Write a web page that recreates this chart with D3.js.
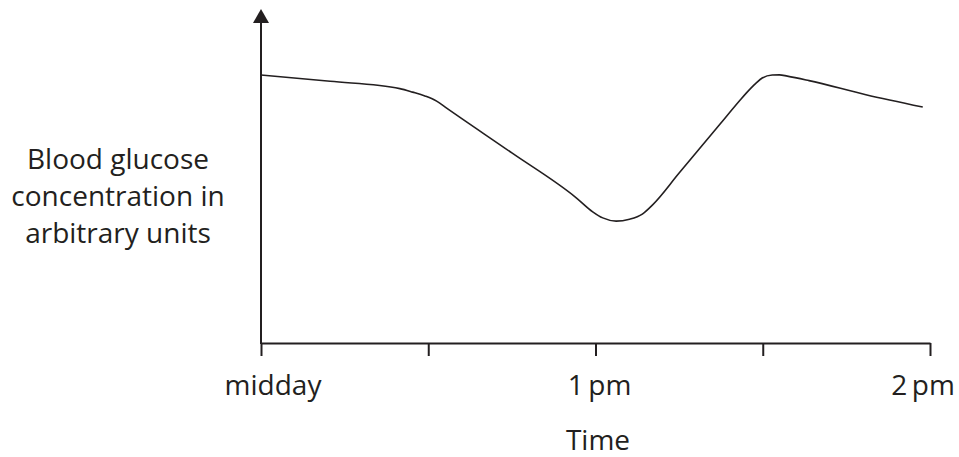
<!DOCTYPE html>
<html>
<head>
<meta charset="UTF-8">
<title>Blood glucose concentration over time</title>
<script src="https://d3js.org/d3.v7.min.js"></script>
<style>
  body { margin: 0; background: #fff; }
  text { font-family: "Open Sans", sans-serif; fill: #231f20; }
</style>
</head>
<body>
<div id="chart"></div>
<script>
// time in minutes after midday
var tickTimes = [0, 30, 60, 90, 120];
var tickLabels = ["midday", "", "1\u2009pm", "", "2\u2009pm"];
var yLabelLines = ["Blood glucose", "concentration in", "arbitrary units"];

// blood glucose, arbitrary units
var times =   [0, 12.4, 24.9, 27.2, 29.4, 31.5, 33.3, 45.0, 56.6, 59.5, 61.3, 63.7, 66.1, 68.4, 70.2,
               75.0, 78.6, 82.2, 85.8, 87.0, 88.8, 89.9, 91.7, 93.0, 94.4, 98.3, 108.5, 118.7];
var glucose = [83.75, 81.8, 79.5, 78.4, 77.2, 75.6, 73.4, 59.4, 45.3, 41.0, 39.1, 38.1, 38.7, 40.3, 43.1,
               53.1, 60.6, 68.1, 75.6, 78.0, 81.2, 82.8, 83.75, 83.8, 83.4, 82.0, 77.6, 73.75];

var width = 959, height = 457;
var ink = "#231f20";

var svg = d3.select("#chart").append("svg")
    .attr("width", width)
    .attr("height", height);

var x = d3.scaleLinear().domain([0, 120]).range([261, 930]);
var y = d3.scaleLinear().domain([0, 100]).range([343, 23]);

// x axis with ticks, labels drawn separately
var xAxis = d3.axisBottom(x)
    .tickValues(tickTimes)
    .tickFormat("")
    .tickSize(13)
    .tickSizeOuter(0);

var gx = svg.append("g")
    .attr("transform", "translate(0," + y(0) + ")")
    .call(xAxis);
gx.select(".domain").attr("stroke", ink).attr("stroke-width", 2);
gx.selectAll(".tick line").attr("stroke", ink).attr("stroke-width", 2);

//label nudges so they sit as in the original
var labelShift = [12, 0, 4, 0, -7];
svg.selectAll(".xlabel")
    .data(tickTimes)
    .enter().append("text")
    .attr("class", "xlabel")
    .attr("x", function (d, i) { return x(d) + labelShift[i]; })
    .attr("y", 395)
    .attr("text-anchor", "middle")
    .style("font-size", "28px")
    .text(function (d, i) { return tickLabels[i]; });

// y axis line up to the arrow
svg.append("line")
    .attr("x1", x(0)).attr("x2", x(0))
    .attr("y1", y(0) + 1).attr("y2", 20)
    .attr("stroke", ink)
    .attr("stroke-width", 2);

svg.append("path")
    .attr("d", d3.line()([[x(0), 9], [x(0) - 8, 23], [x(0) + 8, 23]]) + "Z")
    .attr("fill", ink);

// the curve
var pts = times.map(function (t, i) { return [t, glucose[i]]; });
var line = d3.line()
    .x(function (d) { return x(d[0]); })
    .y(function (d) { return y(d[1]); })
    .curve(d3.curveMonotoneX);

svg.append("path")
    .datum(pts)
    .attr("d", line)
    .attr("fill", "none")
    .attr("stroke", ink)
    .attr("stroke-width", 1.6);

// axis titles
svg.append("text")
    .attr("x", 598)
    .attr("y", 450)
    .attr("text-anchor", "middle")
    .style("font-size", "28px")
    .text("Time");

svg.selectAll(".ylabel")
    .data(yLabelLines)
    .enter().append("text")
    .attr("class", "ylabel")
    .attr("x", 118)
    .attr("y", function (d, i) { return 169 + i * 37; })
    .attr("text-anchor", "middle")
    .style("font-size", "28px")
    .text(function (d) { return d; });
</script>
</body>
</html>
